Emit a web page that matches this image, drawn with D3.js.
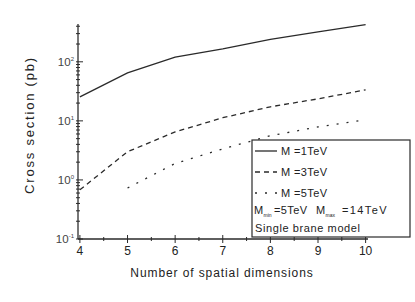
<!DOCTYPE html>
<html>
<head>
<meta charset="utf-8">
<script src="https://cdn.jsdelivr.net/npm/d3@7"></script>
<style>
  body { margin: 0; background: #fff; }
  text { font-family: "Liberation Sans", Arial, sans-serif; fill: #222; }
</style>
</head>
<body>
<div id="chart"></div>
<script>
// dimensions on the x axis
const dims = [4, 5, 6, 7, 8, 9, 10];

// cross sections (pb), single brane model
const m1TeV = [25.5, 65, 120, 166, 240, 320, 425];
const m3TeV = [0.68, 3.0, 6.5, 11.3, 17.3, 23.6, 33.5];
const m5TeV = [null, 0.73, 1.9, 3.35, 5.6, 7.9, 10.4];

const xTicks = [4, 5, 6, 7, 8, 9, 10];
const yTickExp = [-1, 0, 1, 2];

const series = [
    { name: 'M =1TeV', values: m1TeV, dash: null },
    { name: 'M =3TeV', values: m3TeV, dash: '5,4' },
    { name: 'M =5TeV', values: m5TeV, dash: '2,8' }
];

const W = 415, H = 302;
const svg = d3.select('#chart').append('svg')
    .attr('width', W)
    .attr('height', H);

const x = d3.scaleLinear().domain([3.96, 10.05]).range([78, 368]);
const y = d3.scaleLog().domain([0.1, Math.pow(10, 2.64)]).range([239, 24]);

const ink = '#2a2a2a';

// y axis line
svg.append('line')
    .attr('x1', 78).attr('x2', 78)
    .attr('y1', y.range()[1]).attr('y2', y.range()[0])
    .attr('stroke', '#555').attr('stroke-width', 1.6);

// x axis line
svg.append('line')
    .attr('x1', 78).attr('x2', 368)
    .attr('y1', 239).attr('y2', 239)
    .attr('stroke', ink).attr('stroke-width', 1.5);

// y ticks: majors and log minors
const minor = [];
for (let e = -1; e <= 2; e++) {
    for (let k = 1; k <= 9; k++) {
        const v = k * Math.pow(10, e);
        if (v <= y.domain()[1]) minor.push({ v, major: k === 1 });
    }
}
svg.selectAll('.ytick')
    .data(minor)
    .enter().append('line')
    .attr('class', 'ytick')
    .attr('x1', d => d.major ? 76 : 76)
    .attr('x2', d => d.major ? 83 : 80)
    .attr('y1', d => y(d.v)).attr('y2', d => y(d.v))
    .attr('stroke', ink).attr('stroke-width', 1);

const ylab = svg.selectAll('.ylab')
    .data(yTickExp)
    .enter().append('text')
    .attr('class', 'ylab')
    .attr('x', 74)
    .attr('y', d => y(Math.pow(10, d)) + 4)
    .attr('text-anchor', 'end')
    .style('font-size', '11.5px')
    .style('fill', '#444');
ylab.append('tspan').text('10');
ylab.append('tspan')
    .attr('dy', -5)
    .style('font-size', '6px')
    .text(d => d);

// x ticks
const xMinor = d3.range(4, 10.01, 0.5);
svg.selectAll('.xtick')
    .data(xMinor)
    .enter().append('line')
    .attr('class', 'xtick')
    .attr('x1', d => x(d)).attr('x2', d => x(d))
    .attr('y1', d => Number.isInteger(d) ? 243 : 241)
    .attr('y2', d => Number.isInteger(d) ? 235 : 237)
    .attr('stroke', ink).attr('stroke-width', 1);

svg.selectAll('.xlab')
    .data(xTicks)
    .enter().append('text')
    .attr('class', 'xlab')
    .attr('x', d => x(d))
    .attr('y', 255)
    .attr('text-anchor', 'middle')
    .style('font-size', '12px')
    .text(d => d);

// axis titles
svg.append('text')
    .attr('x', 222).attr('y', 277)
    .attr('text-anchor', 'middle')
    .style('font-size', '12px')
    .style('letter-spacing', '0.9px')
    .text('Number of spatial dimensions');

svg.append('text')
    .attr('transform', 'translate(34,125) rotate(-90)')
    .attr('text-anchor', 'middle')
    .style('font-size', '13px')
    .style('letter-spacing', '1.8px')
    .text('Cross section (pb)');

// curves
const line = d3.line()
    .defined(d => d[1] != null)
    .x(d => x(d[0]))
    .y(d => y(d[1]));

series.forEach(s => {
    svg.append('path')
        .datum(dims.map((d, i) => [d, s.values[i]]))
        .attr('d', line)
        .attr('fill', 'none')
        .attr('stroke', ink)
        .attr('stroke-width', 1.3)
        .attr('stroke-dasharray', s.dash);
});

// legend
const lg = svg.append('g');
lg.append('rect')
    .attr('x', 252).attr('y', 140)
    .attr('width', 158).attr('height', 97)
    .attr('fill', '#fff')
    .attr('stroke', ink).attr('stroke-width', 1.2);

series.forEach((s, i) => {
    const ly = [151, 172, 193][i];
    lg.append('line')
        .attr('x1', 255).attr('x2', 277)
        .attr('y1', ly).attr('y2', ly)
        .attr('stroke', ink).attr('stroke-width', 1.3)
        .attr('stroke-dasharray', s.dash);
    lg.append('text')
        .attr('x', 281).attr('y', ly + 4)
        .style('font-size', '11px')
        .style('letter-spacing', '0.4px')
        .text(s.name);
});

const mm = lg.append('text')
    .attr('y', 214)
    .style('font-size', '11px')
    .style('letter-spacing', '0.4px');
mm.append('tspan').attr('x', 254).text('M');
mm.append('tspan').attr('dy', 3).style('font-size', '5px').style('letter-spacing', '0px').text('min');
mm.append('tspan').attr('dy', -3).attr('x', 274).text('=5TeV');
mm.append('tspan').attr('x', 316).text('M');
mm.append('tspan').attr('dy', 3).style('font-size', '5px').style('letter-spacing', '0px').text('max');
mm.append('tspan').attr('dy', -3).attr('x', 342)
    .style('letter-spacing', '1.4px').text('=14TeV');

lg.append('text')
    .attr('x', 255).attr('y', 232)
    .style('font-size', '11px')
    .style('letter-spacing', '0.6px')
    .text('Single brane model');
</script>
</body>
</html>
